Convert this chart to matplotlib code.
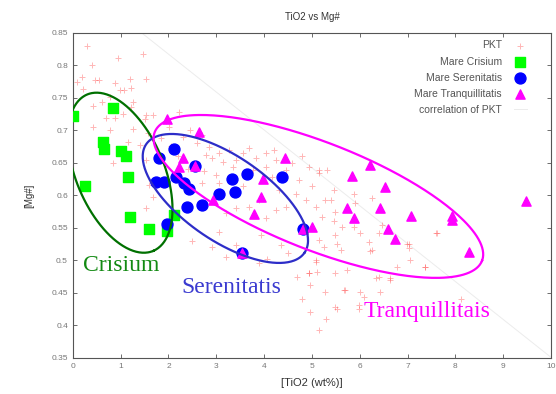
import numpy as np
import matplotlib
matplotlib.use("Agg")
import matplotlib.pyplot as plt

plt.rcParams['font.family'] = ['Liberation Sans', 'DejaVu Sans']

# PKT (cloud of small red crosses)
pktX = [0.29, 0.41, 0.94, 1.465, 0.08, 0.2, 0.46, 0.55, 1.53, 1.19, 0.875, 0.98, 1.08, 1.22, 0.21,
        0.77, 1.26, 0.42, 0.6, 1.05, 1.22, 0.70, 0.875, 1.53, 1.5, 1.67, 0.42, 0.77, 1.26, 1.57,
        1.95, 2.02, 2.23, 1.15, 1.4, 0.84, 1.53, 1.53, 1.67, 1.6, 1.85, 2.05, 2.3, 2.45, 2.6,
        2.2, 2.4,
        2.71, 2.85, 2.79, 2.92, 3.06, 3.13, 2.75, 2.99, 3.27, 3.41, 3.55, 3.69, 3.83, 4.03, 4.21,
        4.24, 4.45, 4.59, 4.73, 4.66, 4.87, 5.01, 5.15, 5.28, 5.08, 3.9, 3.69, 4.24, 4.45, 4.03,
        3.41, 3.2, 3.55, 3.76, 4.03, 4.17, 4.31, 3.34, 2.71, 3.06, 5.21, 4.94, 4.8,
        3.06, 3.93, 4.07, 3.9, 4.35, 4.49, 5.08, 5.15, 5.25, 4.69, 4.94, 5.11, 5.28, 4.97, 3.41,
        5.46, 5.39, 5.49, 5.46, 5.63, 5.49, 5.53, 5.6, 5.88, 5.91, 6.26, 5.88, 6.01, 6.19, 6.26,
        6.40, 6.47, 6.99, 7.02, 7.06, 6.78, 7.37, 7.61, 6.64, 6.33, 5.74, 5.49, 5.67, 6.08, 6.43,
        5.49, 5.98,
        5.15, 5.32, 5.08, 4.94, 5.7, 6.01, 5.53, 5.98, 6.4, 6.64, 6.22, 7.02, 7.37, 7.6,
        4.8, 4.95, 5.3, 5.15, 2.5, 2.9, 3.2, 8.12]
pktY = [0.83, 0.801, 0.811, 0.818, 0.775, 0.782, 0.777, 0.777, 0.779, 0.779, 0.773, 0.762, 0.762, 0.766, 0.763,
        0.752, 0.744, 0.738, 0.743, 0.726, 0.736, 0.719, 0.719, 0.724, 0.717, 0.724, 0.706, 0.701, 0.703, 0.696,
        0.714, 0.706, 0.729, 0.683, 0.678, 0.65, 0.655, 0.58, 0.598, 0.616, 0.688, 0.676, 0.69, 0.70, 0.68,
        0.66, 0.64,
        0.693, 0.675, 0.662, 0.657, 0.665, 0.652, 0.637, 0.632, 0.670, 0.655, 0.665, 0.673, 0.657, 0.665, 0.670,
        0.655, 0.639, 0.650, 0.624, 0.603, 0.593, 0.614, 0.634, 0.593, 0.583, 0.593, 0.583, 0.578, 0.583, 0.565,
        0.580, 0.573, 0.614, 0.639, 0.644, 0.629, 0.608, 0.644, 0.619, 0.619, 0.567, 0.644, 0.660,
        0.544, 0.539, 0.503, 0.496, 0.524, 0.511, 0.498, 0.532, 0.521, 0.475, 0.480, 0.483, 0.452, 0.462, 0.524,
        0.608, 0.593, 0.575, 0.560, 0.552, 0.539, 0.526, 0.516, 0.603, 0.588, 0.596, 0.552, 0.542, 0.529, 0.516,
        0.542, 0.555, 0.526, 0.519, 0.501, 0.490, 0.490, 0.542, 0.473, 0.473, 0.485, 0.480, 0.455, 0.444, 0.452,
        0.429, 0.432,
        0.639, 0.639, 0.501, 0.48, 0.455, 0.452, 0.426, 0.426, 0.475, 0.47, 0.514, 0.526, 0.49, 0.542,
        0.44, 0.42, 0.41, 0.393, 0.53, 0.52, 0.505, 0.44]

# Mare Crisium
crisiumX = [0.0, 0.83, 0.63, 0.65, 1.01, 1.12, 1.15, 0.25, 1.19, 1.59, 1.96, 2.11]
crisiumY = [0.722, 0.735, 0.683, 0.671, 0.669, 0.660, 0.628, 0.615, 0.567, 0.549, 0.546, 0.570]

# Mare Serenitatis
serenX = [2.11, 1.81, 1.74, 1.90, 2.16, 2.33, 2.42, 2.56, 2.38, 2.70, 3.05, 3.32, 3.40, 3.65,
          4.38, 1.96, 4.82, 3.53]
serenY = [0.671, 0.657, 0.621, 0.621, 0.629, 0.619, 0.610, 0.645, 0.583, 0.586, 0.602, 0.625, 0.605, 0.633,
          0.628, 0.556, 0.548, 0.512]

# Mare Tranquillitatis
tranqX = [1.96, 2.63, 2.30, 2.23, 2.56, 4.43, 3.98, 3.93, 3.79, 2.94, 4.82, 3.53,
          6.22, 5.84, 6.52, 5.74, 6.43, 5.875, 7.07, 7.92, 7.94, 6.60, 6.74, 5.01, 8.29, 9.47]
tranqY = [0.717, 0.697, 0.657, 0.644, 0.645, 0.657, 0.626, 0.597, 0.572, 0.593, 0.548, 0.512,
          0.647, 0.630, 0.613, 0.581, 0.581, 0.566, 0.568, 0.568, 0.563, 0.548, 0.533, 0.551, 0.513, 0.592]

# correlation of PKT (intercept, slope)
corr = [0.934, -0.0583]

# ellipses: center, half axis 1, half axis 2 (data units)
elipses = {
    "Crisium": [(0.99, 0.635), (0.694, -0.1202), (-0.846, -0.0266)],
    "Serenitatis": [(3.19, 0.5954), (1.656, -0.0834), (-0.496, -0.0537)],
    "Tranquillitais": [(5.135, 0.5985), (3.423, -0.0989), (-0.406, -0.0769)],
}
colElipse = {"Crisium": "#007000", "Serenitatis": "#2d2dc8", "Tranquillitais": "#ff00ff"}
colTexto = {"Crisium": "#138a13", "Serenitatis": "#3a3ad0", "Tranquillitais": "#ff00ff"}
posTexto = {"Crisium": (0.21, 0.493), "Serenitatis": (2.27, 0.459), "Tranquillitais": (6.08, 0.422)}

fig = plt.figure(figsize=(5.56, 3.94), dpi=100)
ax = fig.add_axes([0.131, 0.0914, 0.86, 0.825])

xs = np.linspace(0, 10, 50)
hCorr, = ax.plot(xs, corr[0] + corr[1] * xs, color="#ececec", lw=0.7, zorder=0, label="correlation of PKT")

hPkt = ax.scatter(pktX, pktY, marker="+", s=24, linewidths=0.7, color="#ff3030", alpha=0.35, label="PKT", zorder=1)
hCri = ax.scatter(crisiumX, crisiumY, marker="s", s=46, color="#00ff00", label="Mare Crisium", zorder=3)
hSer = ax.scatter(serenX, serenY, marker="o", s=62, color="#0000ff", label="Mare Serenitatis", zorder=3)
hTra = ax.scatter(tranqX, tranqY, marker="^", s=44, color="#ff00ff", label="Mare Tranquillitatis", zorder=4)

t = np.linspace(0, 2 * np.pi, 300)
for nombre, (c, v1, v2) in elipses.items():
    ex = c[0] + v1[0] * np.cos(t) + v2[0] * np.sin(t)
    ey = c[1] + v1[1] * np.cos(t) + v2[1] * np.sin(t)
    ax.plot(ex, ey, color=colElipse[nombre], lw=1.6, zorder=5)
    ax.text(posTexto[nombre][0], posTexto[nombre][1], nombre, color=colTexto[nombre],
            fontsize=17, family="Liberation Serif", va="center", ha="left")

ax.set_xlim(0, 10)
ax.set_ylim(0.35, 0.85)
ax.set_xticks(range(0, 11))
ax.set_yticks(np.arange(0.35, 0.851, 0.05))
ax.set_yticklabels(["0.35", "0.4", "0.45", "0.5", "0.55", "0.6", "0.65", "0.7", "0.75", "0.8", "0.85"])
ax.tick_params(direction="in", length=3, width=0.6, colors="#555555", labelsize=6,
               top=True, right=True, labelcolor="#777777")
for s in ax.spines.values():
    s.set_color("#555555")
    s.set_linewidth(0.8)

ax.set_title("TiO2 vs Mg#", fontsize=7, color="#333333", pad=9)
ax.set_xlabel("[TiO2 (wt%)]", fontsize=8, color="#333333", labelpad=6)
ax.set_ylabel("[Mg#]", fontsize=7, color="#333333", labelpad=12)

leg = ax.legend([hPkt, hCri, hSer, hTra, hCorr],
                ["PKT", "Mare Crisium", "Mare Serenitatis", "Mare Tranquillitatis", "correlation of PKT"],
                loc="upper right", bbox_to_anchor=(0.958, 0.99), frameon=False, markerfirst=False,
                fontsize=7.5, labelspacing=0.59, borderaxespad=0, handlelength=1.2,
                handletextpad=1.2, scatterpoints=1)
for txt in leg.get_texts():
    txt.set_color("#555555")

fig.savefig("out.png", dpi=100)
